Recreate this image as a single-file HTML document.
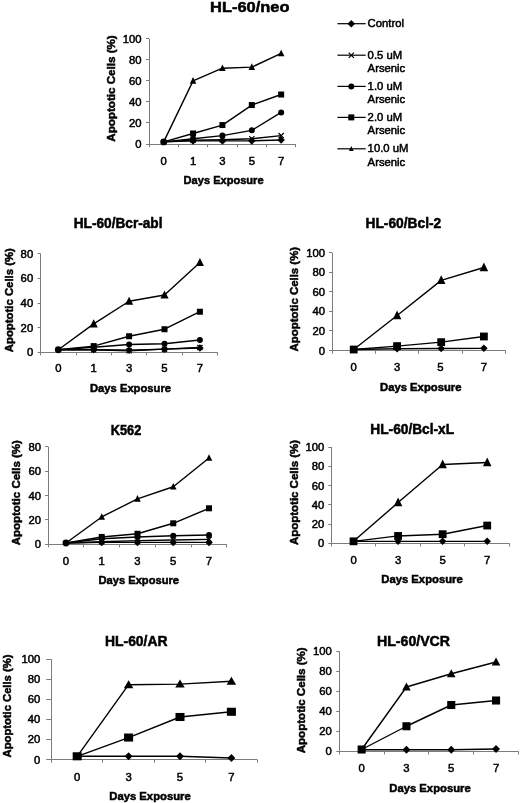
<!DOCTYPE html>
<html><head><meta charset="utf-8"><title>Apoptotic cells</title>
<style>
html,body{margin:0;padding:0;background:#fff;}
body{width:520px;height:803px;overflow:hidden;}
svg{display:block;font-family:"Liberation Sans", sans-serif;fill:#000;filter:grayscale(1);}
svg text{fill:#000;stroke:#000;stroke-width:0.5px;}
</style></head><body>
<svg width="520" height="803" viewBox="0 0 520 803">
<rect x="0" y="0" width="520" height="803" fill="#fff"/>
<line x1="149.50" y1="38.75" x2="149.50" y2="144.50" stroke="#7c7c7c" stroke-width="1"/>
<line x1="149.00" y1="144.50" x2="295.85" y2="144.50" stroke="#7c7c7c" stroke-width="1"/>
<line x1="146.00" y1="144.50" x2="149.00" y2="144.50" stroke="#7c7c7c" stroke-width="1"/>
<text x="141.60" y="148.00" font-size="11.3" text-anchor="end">0</text>
<line x1="146.00" y1="122.50" x2="149.00" y2="122.50" stroke="#7c7c7c" stroke-width="1"/>
<text x="141.60" y="126.95" font-size="11.3" text-anchor="end">20</text>
<line x1="146.00" y1="101.50" x2="149.00" y2="101.50" stroke="#7c7c7c" stroke-width="1"/>
<text x="141.60" y="105.90" font-size="11.3" text-anchor="end">40</text>
<line x1="146.00" y1="80.50" x2="149.00" y2="80.50" stroke="#7c7c7c" stroke-width="1"/>
<text x="141.60" y="84.85" font-size="11.3" text-anchor="end">60</text>
<line x1="146.00" y1="59.50" x2="149.00" y2="59.50" stroke="#7c7c7c" stroke-width="1"/>
<text x="141.60" y="63.80" font-size="11.3" text-anchor="end">80</text>
<line x1="146.00" y1="38.50" x2="149.00" y2="38.50" stroke="#7c7c7c" stroke-width="1"/>
<text x="141.60" y="42.75" font-size="11.3" text-anchor="end">100</text>
<line x1="149.50" y1="144.00" x2="149.50" y2="147.20" stroke="#7c7c7c" stroke-width="1"/>
<line x1="178.50" y1="144.00" x2="178.50" y2="147.20" stroke="#7c7c7c" stroke-width="1"/>
<line x1="207.50" y1="144.00" x2="207.50" y2="147.20" stroke="#7c7c7c" stroke-width="1"/>
<line x1="237.50" y1="144.00" x2="237.50" y2="147.20" stroke="#7c7c7c" stroke-width="1"/>
<line x1="266.50" y1="144.00" x2="266.50" y2="147.20" stroke="#7c7c7c" stroke-width="1"/>
<line x1="295.50" y1="144.00" x2="295.50" y2="147.20" stroke="#7c7c7c" stroke-width="1"/>
<text x="163.69" y="164.90" font-size="11.3" text-anchor="middle">0</text>
<text x="193.06" y="164.90" font-size="11.3" text-anchor="middle">1</text>
<text x="222.43" y="164.90" font-size="11.3" text-anchor="middle">3</text>
<text x="251.80" y="164.90" font-size="11.3" text-anchor="middle">5</text>
<text x="281.16" y="164.90" font-size="11.3" text-anchor="middle">7</text>
<text x="249.80" y="12.30" font-size="15" text-anchor="middle" font-weight="bold" textLength="79.50" lengthAdjust="spacingAndGlyphs">HL-60/neo</text>
<text x="115.00" y="88.50" font-size="11.3" text-anchor="middle" font-weight="bold" transform="rotate(-90 115.00 88.50)" textLength="106.50" lengthAdjust="spacingAndGlyphs">Apoptotic Cells (%)</text>
<text x="223.60" y="183.70" font-size="11.3" text-anchor="middle" font-weight="bold" textLength="80.00" lengthAdjust="spacingAndGlyphs">Days Exposure</text>
<polyline fill="none" stroke="#000" stroke-width="1.4" stroke-linejoin="round" points="163.69,141.90 193.06,140.84 222.43,140.84 251.80,140.84 281.16,140.00"/>
<polygon points="193.06,137.04 196.86,140.84 193.06,144.64 189.25,140.84" fill="#000"/>
<polygon points="222.43,137.04 226.23,140.84 222.43,144.64 218.62,140.84" fill="#000"/>
<polygon points="251.80,137.04 255.60,140.84 251.80,144.64 248.00,140.84" fill="#000"/>
<polygon points="281.16,136.20 284.96,140.00 281.16,143.80 277.36,140.00" fill="#000"/>
<polyline fill="none" stroke="#000" stroke-width="1.4" stroke-linejoin="round" points="163.69,141.90 193.06,140.32 222.43,139.79 251.80,138.74 281.16,135.58"/>
<path d="M190.46,137.72 L195.66,142.92 M190.46,142.92 L195.66,137.72" stroke="#000" stroke-width="1.2" fill="none"/>
<path d="M219.83,137.19 L225.03,142.39 M219.83,142.39 L225.03,137.19" stroke="#000" stroke-width="1.2" fill="none"/>
<path d="M249.20,136.14 L254.40,141.34 M249.20,141.34 L254.40,136.14" stroke="#000" stroke-width="1.2" fill="none"/>
<path d="M278.56,132.98 L283.76,138.18 M278.56,138.18 L283.76,132.98" stroke="#000" stroke-width="1.2" fill="none"/>
<polyline fill="none" stroke="#000" stroke-width="1.4" stroke-linejoin="round" points="163.69,141.90 193.06,138.74 222.43,135.58 251.80,130.32 281.16,112.42"/>
<circle cx="163.69" cy="141.90" r="3.45" fill="#000"/>
<circle cx="193.06" cy="138.74" r="3.00" fill="#000"/>
<circle cx="222.43" cy="135.58" r="3.00" fill="#000"/>
<circle cx="251.80" cy="130.32" r="3.00" fill="#000"/>
<circle cx="281.16" cy="112.42" r="3.00" fill="#000"/>
<polyline fill="none" stroke="#000" stroke-width="1.4" stroke-linejoin="round" points="163.69,141.90 193.06,133.47 222.43,125.06 251.80,105.06 281.16,94.53"/>
<rect x="190.06" y="130.47" width="6.00" height="6.00" fill="#000"/>
<rect x="219.43" y="122.06" width="6.00" height="6.00" fill="#000"/>
<rect x="248.80" y="102.06" width="6.00" height="6.00" fill="#000"/>
<rect x="278.16" y="91.53" width="6.00" height="6.00" fill="#000"/>
<polyline fill="none" stroke="#000" stroke-width="1.4" stroke-linejoin="round" points="163.69,141.90 193.06,80.85 222.43,68.22 251.80,67.17 281.16,53.48"/>
<polygon points="193.06,77.03 196.33,83.74 189.78,83.74" fill="#000"/>
<polygon points="222.43,64.40 225.70,71.11 219.15,71.11" fill="#000"/>
<polygon points="251.80,63.35 255.07,70.05 248.52,70.05" fill="#000"/>
<polygon points="281.16,49.66 284.44,56.37 277.89,56.37" fill="#000"/>
<line x1="40.50" y1="253.75" x2="40.50" y2="352.75" stroke="#7c7c7c" stroke-width="1"/>
<line x1="40.60" y1="352.50" x2="217.60" y2="352.50" stroke="#7c7c7c" stroke-width="1"/>
<line x1="37.60" y1="352.50" x2="40.60" y2="352.50" stroke="#7c7c7c" stroke-width="1"/>
<text x="33.20" y="356.25" font-size="11.3" text-anchor="end">0</text>
<line x1="37.60" y1="327.50" x2="40.60" y2="327.50" stroke="#7c7c7c" stroke-width="1"/>
<text x="33.20" y="331.62" font-size="11.3" text-anchor="end">20</text>
<line x1="37.60" y1="303.50" x2="40.60" y2="303.50" stroke="#7c7c7c" stroke-width="1"/>
<text x="33.20" y="307.00" font-size="11.3" text-anchor="end">40</text>
<line x1="37.60" y1="278.50" x2="40.60" y2="278.50" stroke="#7c7c7c" stroke-width="1"/>
<text x="33.20" y="282.38" font-size="11.3" text-anchor="end">60</text>
<line x1="37.60" y1="253.50" x2="40.60" y2="253.50" stroke="#7c7c7c" stroke-width="1"/>
<text x="33.20" y="257.75" font-size="11.3" text-anchor="end">80</text>
<line x1="40.50" y1="352.25" x2="40.50" y2="355.45" stroke="#7c7c7c" stroke-width="1"/>
<line x1="76.50" y1="352.25" x2="76.50" y2="355.45" stroke="#7c7c7c" stroke-width="1"/>
<line x1="111.50" y1="352.25" x2="111.50" y2="355.45" stroke="#7c7c7c" stroke-width="1"/>
<line x1="146.50" y1="352.25" x2="146.50" y2="355.45" stroke="#7c7c7c" stroke-width="1"/>
<line x1="182.50" y1="352.25" x2="182.50" y2="355.45" stroke="#7c7c7c" stroke-width="1"/>
<line x1="217.50" y1="352.25" x2="217.50" y2="355.45" stroke="#7c7c7c" stroke-width="1"/>
<text x="58.30" y="372.25" font-size="11.3" text-anchor="middle">0</text>
<text x="93.70" y="372.25" font-size="11.3" text-anchor="middle">1</text>
<text x="129.10" y="372.25" font-size="11.3" text-anchor="middle">3</text>
<text x="164.50" y="372.25" font-size="11.3" text-anchor="middle">5</text>
<text x="199.90" y="372.25" font-size="11.3" text-anchor="middle">7</text>
<text x="118.10" y="228.00" font-size="14" text-anchor="middle" font-weight="bold" textLength="88.75" lengthAdjust="spacingAndGlyphs">HL-60/Bcr-abl</text>
<text x="13.30" y="300.20" font-size="11.3" text-anchor="middle" font-weight="bold" transform="rotate(-90 13.30 300.20)" textLength="104.00" lengthAdjust="spacingAndGlyphs">Apoptotic Cells (%)</text>
<text x="130.50" y="392.00" font-size="11.3" text-anchor="middle" font-weight="bold" textLength="81.00" lengthAdjust="spacingAndGlyphs">Days Exposure</text>
<polyline fill="none" stroke="#000" stroke-width="1.4" stroke-linejoin="round" points="58.30,349.79 93.70,349.79 129.10,350.28 164.50,349.17 199.90,347.94"/>
<polygon points="93.70,345.99 97.50,349.79 93.70,353.59 89.90,349.79" fill="#000"/>
<polygon points="129.10,346.48 132.90,350.28 129.10,354.08 125.30,350.28" fill="#000"/>
<polygon points="164.50,345.37 168.30,349.17 164.50,352.97 160.70,349.17" fill="#000"/>
<polygon points="199.90,344.14 203.70,347.94 199.90,351.74 196.10,347.94" fill="#000"/>
<polyline fill="none" stroke="#000" stroke-width="1.4" stroke-linejoin="round" points="58.30,349.79 93.70,349.79 129.10,350.77 164.50,349.17 199.90,347.57"/>
<path d="M91.10,347.19 L96.30,352.39 M91.10,352.39 L96.30,347.19" stroke="#000" stroke-width="1.2" fill="none"/>
<path d="M126.50,348.17 L131.70,353.37 M126.50,353.37 L131.70,348.17" stroke="#000" stroke-width="1.2" fill="none"/>
<path d="M161.90,346.57 L167.10,351.77 M161.90,351.77 L167.10,346.57" stroke="#000" stroke-width="1.2" fill="none"/>
<path d="M197.30,344.97 L202.50,350.17 M197.30,350.17 L202.50,344.97" stroke="#000" stroke-width="1.2" fill="none"/>
<polyline fill="none" stroke="#000" stroke-width="1.4" stroke-linejoin="round" points="58.30,349.79 93.70,347.32 129.10,344.49 164.50,343.75 199.90,340.06"/>
<circle cx="58.30" cy="349.79" r="3.45" fill="#000"/>
<circle cx="93.70" cy="347.32" r="3.00" fill="#000"/>
<circle cx="129.10" cy="344.49" r="3.00" fill="#000"/>
<circle cx="164.50" cy="343.75" r="3.00" fill="#000"/>
<circle cx="199.90" cy="340.06" r="3.00" fill="#000"/>
<polyline fill="none" stroke="#000" stroke-width="1.4" stroke-linejoin="round" points="58.30,349.79 93.70,346.09 129.10,336.24 164.50,329.23 199.90,311.74"/>
<rect x="90.70" y="343.09" width="6.00" height="6.00" fill="#000"/>
<rect x="126.10" y="333.24" width="6.00" height="6.00" fill="#000"/>
<rect x="161.50" y="326.23" width="6.00" height="6.00" fill="#000"/>
<rect x="196.90" y="308.74" width="6.00" height="6.00" fill="#000"/>
<polyline fill="none" stroke="#000" stroke-width="1.4" stroke-linejoin="round" points="58.30,349.79 93.70,323.93 129.10,301.28 164.50,295.00 199.90,262.49"/>
<polygon points="93.70,319.34 97.79,327.39 89.61,327.39" fill="#000"/>
<polygon points="129.10,296.69 133.19,304.74 125.01,304.74" fill="#000"/>
<polygon points="164.50,290.41 168.59,298.46 160.41,298.46" fill="#000"/>
<polygon points="199.90,257.91 203.99,265.96 195.81,265.96" fill="#000"/>
<line x1="332.50" y1="252.50" x2="332.50" y2="351.00" stroke="#7c7c7c" stroke-width="1"/>
<line x1="332.00" y1="350.50" x2="505.60" y2="350.50" stroke="#7c7c7c" stroke-width="1"/>
<line x1="329.00" y1="350.50" x2="332.00" y2="350.50" stroke="#7c7c7c" stroke-width="1"/>
<text x="325.10" y="354.50" font-size="11.3" text-anchor="end">0</text>
<line x1="329.00" y1="330.50" x2="332.00" y2="330.50" stroke="#7c7c7c" stroke-width="1"/>
<text x="325.10" y="334.90" font-size="11.3" text-anchor="end">20</text>
<line x1="329.00" y1="311.50" x2="332.00" y2="311.50" stroke="#7c7c7c" stroke-width="1"/>
<text x="325.10" y="315.30" font-size="11.3" text-anchor="end">40</text>
<line x1="329.00" y1="291.50" x2="332.00" y2="291.50" stroke="#7c7c7c" stroke-width="1"/>
<text x="325.10" y="295.70" font-size="11.3" text-anchor="end">60</text>
<line x1="329.00" y1="272.50" x2="332.00" y2="272.50" stroke="#7c7c7c" stroke-width="1"/>
<text x="325.10" y="276.10" font-size="11.3" text-anchor="end">80</text>
<line x1="329.00" y1="252.50" x2="332.00" y2="252.50" stroke="#7c7c7c" stroke-width="1"/>
<text x="325.10" y="256.50" font-size="11.3" text-anchor="end">100</text>
<line x1="332.50" y1="350.50" x2="332.50" y2="353.70" stroke="#7c7c7c" stroke-width="1"/>
<line x1="375.50" y1="350.50" x2="375.50" y2="353.70" stroke="#7c7c7c" stroke-width="1"/>
<line x1="418.50" y1="350.50" x2="418.50" y2="353.70" stroke="#7c7c7c" stroke-width="1"/>
<line x1="462.50" y1="350.50" x2="462.50" y2="353.70" stroke="#7c7c7c" stroke-width="1"/>
<line x1="505.50" y1="350.50" x2="505.50" y2="353.70" stroke="#7c7c7c" stroke-width="1"/>
<text x="353.70" y="371.00" font-size="11.3" text-anchor="middle">0</text>
<text x="397.10" y="371.00" font-size="11.3" text-anchor="middle">3</text>
<text x="440.50" y="371.00" font-size="11.3" text-anchor="middle">5</text>
<text x="483.90" y="371.00" font-size="11.3" text-anchor="middle">7</text>
<text x="403.40" y="228.00" font-size="14" text-anchor="middle" font-weight="bold" textLength="75.75" lengthAdjust="spacingAndGlyphs">HL-60/Bcl-2</text>
<text x="298.50" y="299.20" font-size="11.3" text-anchor="middle" font-weight="bold" transform="rotate(-90 298.50 299.20)" textLength="104.60" lengthAdjust="spacingAndGlyphs">Apoptotic Cells (%)</text>
<text x="420.75" y="391.00" font-size="11.3" text-anchor="middle" font-weight="bold" textLength="81.50" lengthAdjust="spacingAndGlyphs">Days Exposure</text>
<polyline fill="none" stroke="#000" stroke-width="1.4" stroke-linejoin="round" points="353.70,349.52 397.10,348.74 441.20,348.54 483.90,348.34"/>
<polygon points="397.10,344.98 400.85,348.74 397.10,352.49 393.35,348.74" fill="#000"/>
<polygon points="441.20,344.79 444.95,348.54 441.20,352.29 437.45,348.54" fill="#000"/>
<polygon points="483.90,344.59 487.65,348.34 483.90,352.10 480.15,348.34" fill="#000"/>
<polyline fill="none" stroke="#000" stroke-width="1.4" stroke-linejoin="round" points="353.70,349.52 397.10,346.09 441.20,342.17 483.90,336.49"/>
<rect x="349.80" y="345.62" width="7.80" height="7.80" fill="#000"/>
<rect x="393.20" y="342.19" width="7.80" height="7.80" fill="#000"/>
<rect x="437.30" y="338.27" width="7.80" height="7.80" fill="#000"/>
<rect x="480.00" y="332.59" width="7.80" height="7.80" fill="#000"/>
<polyline fill="none" stroke="#000" stroke-width="1.4" stroke-linejoin="round" points="353.70,349.52 397.10,315.51 441.20,280.33 483.90,267.49"/>
<polygon points="397.10,310.55 401.36,319.27 392.84,319.27" fill="#000"/>
<polygon points="441.20,275.36 445.46,284.08 436.94,284.08" fill="#000"/>
<polygon points="483.90,262.53 488.16,271.25 479.64,271.25" fill="#000"/>
<line x1="48.50" y1="446.75" x2="48.50" y2="544.75" stroke="#7c7c7c" stroke-width="1"/>
<line x1="48.10" y1="544.50" x2="226.90" y2="544.50" stroke="#7c7c7c" stroke-width="1"/>
<line x1="45.10" y1="544.50" x2="48.10" y2="544.50" stroke="#7c7c7c" stroke-width="1"/>
<text x="41.00" y="548.25" font-size="11.3" text-anchor="end">0</text>
<line x1="45.10" y1="519.50" x2="48.10" y2="519.50" stroke="#7c7c7c" stroke-width="1"/>
<text x="41.00" y="523.88" font-size="11.3" text-anchor="end">20</text>
<line x1="45.10" y1="495.50" x2="48.10" y2="495.50" stroke="#7c7c7c" stroke-width="1"/>
<text x="41.00" y="499.50" font-size="11.3" text-anchor="end">40</text>
<line x1="45.10" y1="471.50" x2="48.10" y2="471.50" stroke="#7c7c7c" stroke-width="1"/>
<text x="41.00" y="475.12" font-size="11.3" text-anchor="end">60</text>
<line x1="45.10" y1="446.50" x2="48.10" y2="446.50" stroke="#7c7c7c" stroke-width="1"/>
<text x="41.00" y="450.75" font-size="11.3" text-anchor="end">80</text>
<line x1="48.50" y1="544.25" x2="48.50" y2="547.45" stroke="#7c7c7c" stroke-width="1"/>
<line x1="83.50" y1="544.25" x2="83.50" y2="547.45" stroke="#7c7c7c" stroke-width="1"/>
<line x1="119.50" y1="544.25" x2="119.50" y2="547.45" stroke="#7c7c7c" stroke-width="1"/>
<line x1="155.50" y1="544.25" x2="155.50" y2="547.45" stroke="#7c7c7c" stroke-width="1"/>
<line x1="191.50" y1="544.25" x2="191.50" y2="547.45" stroke="#7c7c7c" stroke-width="1"/>
<line x1="226.50" y1="544.25" x2="226.50" y2="547.45" stroke="#7c7c7c" stroke-width="1"/>
<text x="65.98" y="564.75" font-size="11.3" text-anchor="middle">0</text>
<text x="101.74" y="564.75" font-size="11.3" text-anchor="middle">1</text>
<text x="137.50" y="564.75" font-size="11.3" text-anchor="middle">3</text>
<text x="173.26" y="564.75" font-size="11.3" text-anchor="middle">5</text>
<text x="209.02" y="564.75" font-size="11.3" text-anchor="middle">7</text>
<text x="126.00" y="435.00" font-size="14" text-anchor="middle" font-weight="bold" textLength="30.50" lengthAdjust="spacingAndGlyphs">K562</text>
<text x="19.60" y="492.75" font-size="11.3" text-anchor="middle" font-weight="bold" transform="rotate(-90 19.60 492.75)" textLength="105.20" lengthAdjust="spacingAndGlyphs">Apoptotic Cells (%)</text>
<text x="138.75" y="584.00" font-size="11.3" text-anchor="middle" font-weight="bold" textLength="80.50" lengthAdjust="spacingAndGlyphs">Days Exposure</text>
<polyline fill="none" stroke="#000" stroke-width="1.4" stroke-linejoin="round" points="65.98,543.03 101.74,542.42 137.50,542.42 173.26,542.42 209.02,542.42"/>
<polygon points="101.74,538.62 105.54,542.42 101.74,546.22 97.94,542.42" fill="#000"/>
<polygon points="137.50,538.62 141.30,542.42 137.50,546.22 133.70,542.42" fill="#000"/>
<polygon points="173.26,538.62 177.06,542.42 173.26,546.22 169.46,542.42" fill="#000"/>
<polygon points="209.02,538.62 212.82,542.42 209.02,546.22 205.22,542.42" fill="#000"/>
<polyline fill="none" stroke="#000" stroke-width="1.4" stroke-linejoin="round" points="65.98,543.03 101.74,541.81 137.50,540.59 173.26,539.98 209.02,539.38"/>
<path d="M99.14,539.21 L104.34,544.41 M99.14,544.41 L104.34,539.21" stroke="#000" stroke-width="1.2" fill="none"/>
<path d="M134.90,537.99 L140.10,543.19 M134.90,543.19 L140.10,537.99" stroke="#000" stroke-width="1.2" fill="none"/>
<path d="M170.66,537.38 L175.86,542.58 M170.66,542.58 L175.86,537.38" stroke="#000" stroke-width="1.2" fill="none"/>
<path d="M206.42,536.77 L211.62,541.98 M206.42,541.98 L211.62,536.77" stroke="#000" stroke-width="1.2" fill="none"/>
<polyline fill="none" stroke="#000" stroke-width="1.4" stroke-linejoin="round" points="65.98,543.03 101.74,538.77 137.50,536.94 173.26,535.72 209.02,534.99"/>
<circle cx="65.98" cy="543.03" r="3.45" fill="#000"/>
<circle cx="101.74" cy="538.77" r="3.00" fill="#000"/>
<circle cx="137.50" cy="536.94" r="3.00" fill="#000"/>
<circle cx="173.26" cy="535.72" r="3.00" fill="#000"/>
<circle cx="209.02" cy="534.99" r="3.00" fill="#000"/>
<polyline fill="none" stroke="#000" stroke-width="1.4" stroke-linejoin="round" points="65.98,543.03 101.74,536.94 137.50,533.77 173.26,523.29 209.02,508.30"/>
<rect x="98.74" y="533.94" width="6.00" height="6.00" fill="#000"/>
<rect x="134.50" y="530.77" width="6.00" height="6.00" fill="#000"/>
<rect x="170.26" y="520.29" width="6.00" height="6.00" fill="#000"/>
<rect x="206.02" y="505.30" width="6.00" height="6.00" fill="#000"/>
<polyline fill="none" stroke="#000" stroke-width="1.4" stroke-linejoin="round" points="65.98,543.03 101.74,516.95 137.50,498.79 173.26,486.73 209.02,457.96"/>
<polygon points="101.74,513.13 105.02,519.84 98.46,519.84" fill="#000"/>
<polygon points="137.50,494.97 140.78,501.68 134.22,501.68" fill="#000"/>
<polygon points="173.26,482.90 176.54,489.61 169.98,489.61" fill="#000"/>
<polygon points="209.02,454.14 212.30,460.85 205.74,460.85" fill="#000"/>
<line x1="331.50" y1="447.00" x2="331.50" y2="543.75" stroke="#7c7c7c" stroke-width="1"/>
<line x1="331.25" y1="543.50" x2="509.49" y2="543.50" stroke="#7c7c7c" stroke-width="1"/>
<line x1="328.25" y1="543.50" x2="331.25" y2="543.50" stroke="#7c7c7c" stroke-width="1"/>
<text x="324.25" y="547.25" font-size="11.3" text-anchor="end">0</text>
<line x1="328.25" y1="524.50" x2="331.25" y2="524.50" stroke="#7c7c7c" stroke-width="1"/>
<text x="324.25" y="528.00" font-size="11.3" text-anchor="end">20</text>
<line x1="328.25" y1="504.50" x2="331.25" y2="504.50" stroke="#7c7c7c" stroke-width="1"/>
<text x="324.25" y="508.75" font-size="11.3" text-anchor="end">40</text>
<line x1="328.25" y1="485.50" x2="331.25" y2="485.50" stroke="#7c7c7c" stroke-width="1"/>
<text x="324.25" y="489.50" font-size="11.3" text-anchor="end">60</text>
<line x1="328.25" y1="466.50" x2="331.25" y2="466.50" stroke="#7c7c7c" stroke-width="1"/>
<text x="324.25" y="470.25" font-size="11.3" text-anchor="end">80</text>
<line x1="328.25" y1="447.50" x2="331.25" y2="447.50" stroke="#7c7c7c" stroke-width="1"/>
<text x="324.25" y="451.00" font-size="11.3" text-anchor="end">100</text>
<line x1="331.50" y1="543.25" x2="331.50" y2="546.45" stroke="#7c7c7c" stroke-width="1"/>
<line x1="375.50" y1="543.25" x2="375.50" y2="546.45" stroke="#7c7c7c" stroke-width="1"/>
<line x1="420.50" y1="543.25" x2="420.50" y2="546.45" stroke="#7c7c7c" stroke-width="1"/>
<line x1="464.50" y1="543.25" x2="464.50" y2="546.45" stroke="#7c7c7c" stroke-width="1"/>
<line x1="509.50" y1="543.25" x2="509.50" y2="546.45" stroke="#7c7c7c" stroke-width="1"/>
<text x="353.53" y="564.00" font-size="11.3" text-anchor="middle">0</text>
<text x="398.09" y="564.00" font-size="11.3" text-anchor="middle">3</text>
<text x="442.65" y="564.00" font-size="11.3" text-anchor="middle">5</text>
<text x="487.21" y="564.00" font-size="11.3" text-anchor="middle">7</text>
<text x="412.20" y="434.10" font-size="14" text-anchor="middle" font-weight="bold" textLength="83.75" lengthAdjust="spacingAndGlyphs">HL-60/Bcl-xL</text>
<text x="297.75" y="492.50" font-size="11.3" text-anchor="middle" font-weight="bold" transform="rotate(-90 297.75 492.50)" textLength="105.00" lengthAdjust="spacingAndGlyphs">Apoptotic Cells (%)</text>
<text x="422.00" y="583.25" font-size="11.3" text-anchor="middle" font-weight="bold" textLength="81.50" lengthAdjust="spacingAndGlyphs">Days Exposure</text>
<polyline fill="none" stroke="#000" stroke-width="1.4" stroke-linejoin="round" points="353.53,541.33 398.09,541.33 442.65,541.33 487.21,541.33"/>
<polygon points="398.09,537.57 401.84,541.33 398.09,545.08 394.34,541.33" fill="#000"/>
<polygon points="442.65,537.57 446.40,541.33 442.65,545.08 438.90,541.33" fill="#000"/>
<polygon points="487.21,537.57 490.96,541.33 487.21,545.08 483.46,541.33" fill="#000"/>
<polyline fill="none" stroke="#000" stroke-width="1.4" stroke-linejoin="round" points="353.53,541.33 398.09,535.93 442.65,534.20 487.21,525.54"/>
<rect x="349.63" y="537.43" width="7.80" height="7.80" fill="#000"/>
<rect x="394.19" y="532.03" width="7.80" height="7.80" fill="#000"/>
<rect x="438.75" y="530.30" width="7.80" height="7.80" fill="#000"/>
<rect x="483.31" y="521.64" width="7.80" height="7.80" fill="#000"/>
<polyline fill="none" stroke="#000" stroke-width="1.4" stroke-linejoin="round" points="353.53,541.33 398.09,502.54 442.65,464.52 487.21,462.50"/>
<polygon points="398.09,497.57 402.35,506.29 393.83,506.29" fill="#000"/>
<polygon points="442.65,459.55 446.91,468.27 438.39,468.27" fill="#000"/>
<polygon points="487.21,457.53 491.47,466.25 482.95,466.25" fill="#000"/>
<line x1="51.50" y1="659.25" x2="51.50" y2="760.00" stroke="#7c7c7c" stroke-width="1"/>
<line x1="51.50" y1="759.50" x2="257.10" y2="759.50" stroke="#7c7c7c" stroke-width="1"/>
<line x1="46.20" y1="759.50" x2="51.50" y2="759.50" stroke="#7c7c7c" stroke-width="1"/>
<text x="40.40" y="763.50" font-size="11.3" text-anchor="end">0</text>
<line x1="46.20" y1="739.50" x2="51.50" y2="739.50" stroke="#7c7c7c" stroke-width="1"/>
<text x="40.40" y="743.45" font-size="11.3" text-anchor="end">20</text>
<line x1="46.20" y1="719.50" x2="51.50" y2="719.50" stroke="#7c7c7c" stroke-width="1"/>
<text x="40.40" y="723.40" font-size="11.3" text-anchor="end">40</text>
<line x1="46.20" y1="699.50" x2="51.50" y2="699.50" stroke="#7c7c7c" stroke-width="1"/>
<text x="40.40" y="703.35" font-size="11.3" text-anchor="end">60</text>
<line x1="46.20" y1="679.50" x2="51.50" y2="679.50" stroke="#7c7c7c" stroke-width="1"/>
<text x="40.40" y="683.30" font-size="11.3" text-anchor="end">80</text>
<line x1="46.20" y1="659.50" x2="51.50" y2="659.50" stroke="#7c7c7c" stroke-width="1"/>
<text x="40.40" y="663.25" font-size="11.3" text-anchor="end">100</text>
<line x1="51.50" y1="759.50" x2="51.50" y2="762.70" stroke="#7c7c7c" stroke-width="1"/>
<line x1="102.50" y1="759.50" x2="102.50" y2="762.70" stroke="#7c7c7c" stroke-width="1"/>
<line x1="154.50" y1="759.50" x2="154.50" y2="762.70" stroke="#7c7c7c" stroke-width="1"/>
<line x1="205.50" y1="759.50" x2="205.50" y2="762.70" stroke="#7c7c7c" stroke-width="1"/>
<line x1="257.50" y1="759.50" x2="257.50" y2="762.70" stroke="#7c7c7c" stroke-width="1"/>
<text x="77.20" y="780.75" font-size="11.3" text-anchor="middle">0</text>
<text x="128.60" y="780.75" font-size="11.3" text-anchor="middle">3</text>
<text x="180.00" y="780.75" font-size="11.3" text-anchor="middle">5</text>
<text x="231.40" y="780.75" font-size="11.3" text-anchor="middle">7</text>
<text x="136.25" y="645.75" font-size="14" text-anchor="middle" font-weight="bold" textLength="62.50" lengthAdjust="spacingAndGlyphs">HL-60/AR</text>
<text x="10.60" y="706.00" font-size="11.3" text-anchor="middle" font-weight="bold" transform="rotate(-90 10.60 706.00)" textLength="102.80" lengthAdjust="spacingAndGlyphs">Apoptotic Cells (%)</text>
<text x="150.00" y="799.75" font-size="11.3" text-anchor="middle" font-weight="bold" textLength="81.50" lengthAdjust="spacingAndGlyphs">Days Exposure</text>
<polyline fill="none" stroke="#000" stroke-width="1.4" stroke-linejoin="round" points="77.20,756.29 128.60,756.29 180.00,756.29 231.40,758.00"/>
<polygon points="128.60,752.37 132.52,756.29 128.60,760.21 124.68,756.29" fill="#000"/>
<polygon points="180.00,752.37 183.92,756.29 180.00,760.21 176.08,756.29" fill="#000"/>
<polygon points="231.40,754.07 235.32,758.00 231.40,761.92 227.48,758.00" fill="#000"/>
<polyline fill="none" stroke="#000" stroke-width="1.4" stroke-linejoin="round" points="77.20,756.29 128.60,737.55 180.00,716.99 231.40,711.78"/>
<rect x="72.68" y="752.26" width="9.03" height="8.06" fill="#000"/>
<rect x="124.08" y="733.51" width="9.03" height="8.06" fill="#000"/>
<rect x="175.48" y="712.96" width="9.03" height="8.06" fill="#000"/>
<rect x="226.88" y="707.75" width="9.03" height="8.06" fill="#000"/>
<polyline fill="none" stroke="#000" stroke-width="1.4" stroke-linejoin="round" points="77.20,756.29 128.60,684.71 180.00,684.11 231.40,681.31"/>
<polygon points="128.60,680.13 133.32,688.18 123.88,688.18" fill="#000"/>
<polygon points="180.00,679.53 184.72,687.58 175.28,687.58" fill="#000"/>
<polygon points="231.40,676.72 236.12,684.77 226.68,684.77" fill="#000"/>
<line x1="339.50" y1="651.25" x2="339.50" y2="751.75" stroke="#7c7c7c" stroke-width="1"/>
<line x1="339.25" y1="751.50" x2="518.45" y2="751.50" stroke="#7c7c7c" stroke-width="1"/>
<line x1="336.25" y1="751.50" x2="339.25" y2="751.50" stroke="#7c7c7c" stroke-width="1"/>
<text x="331.85" y="755.25" font-size="11.3" text-anchor="end">0</text>
<line x1="336.25" y1="731.50" x2="339.25" y2="731.50" stroke="#7c7c7c" stroke-width="1"/>
<text x="331.85" y="735.25" font-size="11.3" text-anchor="end">20</text>
<line x1="336.25" y1="711.50" x2="339.25" y2="711.50" stroke="#7c7c7c" stroke-width="1"/>
<text x="331.85" y="715.25" font-size="11.3" text-anchor="end">40</text>
<line x1="336.25" y1="691.50" x2="339.25" y2="691.50" stroke="#7c7c7c" stroke-width="1"/>
<text x="331.85" y="695.25" font-size="11.3" text-anchor="end">60</text>
<line x1="336.25" y1="671.50" x2="339.25" y2="671.50" stroke="#7c7c7c" stroke-width="1"/>
<text x="331.85" y="675.25" font-size="11.3" text-anchor="end">80</text>
<line x1="336.25" y1="651.50" x2="339.25" y2="651.50" stroke="#7c7c7c" stroke-width="1"/>
<text x="331.85" y="655.25" font-size="11.3" text-anchor="end">100</text>
<line x1="339.50" y1="751.25" x2="339.50" y2="754.45" stroke="#7c7c7c" stroke-width="1"/>
<line x1="384.50" y1="751.25" x2="384.50" y2="754.45" stroke="#7c7c7c" stroke-width="1"/>
<line x1="428.50" y1="751.25" x2="428.50" y2="754.45" stroke="#7c7c7c" stroke-width="1"/>
<line x1="473.50" y1="751.25" x2="473.50" y2="754.45" stroke="#7c7c7c" stroke-width="1"/>
<line x1="518.50" y1="751.25" x2="518.50" y2="754.45" stroke="#7c7c7c" stroke-width="1"/>
<text x="361.65" y="772.00" font-size="11.3" text-anchor="middle">0</text>
<text x="406.45" y="772.00" font-size="11.3" text-anchor="middle">3</text>
<text x="451.25" y="772.00" font-size="11.3" text-anchor="middle">5</text>
<text x="496.05" y="772.00" font-size="11.3" text-anchor="middle">7</text>
<text x="413.50" y="646.25" font-size="14" text-anchor="middle" font-weight="bold" textLength="73.00" lengthAdjust="spacingAndGlyphs">HL-60/VCR</text>
<text x="304.70" y="700.30" font-size="11.3" text-anchor="middle" font-weight="bold" transform="rotate(-90 304.70 700.30)" textLength="106.00" lengthAdjust="spacingAndGlyphs">Apoptotic Cells (%)</text>
<text x="430.00" y="791.50" font-size="11.3" text-anchor="middle" font-weight="bold" textLength="81.50" lengthAdjust="spacingAndGlyphs">Days Exposure</text>
<polyline fill="none" stroke="#000" stroke-width="1.4" stroke-linejoin="round" points="361.65,749.75 406.45,749.75 451.25,749.75 496.05,749.00"/>
<polygon points="406.45,745.83 410.37,749.75 406.45,753.67 402.53,749.75" fill="#000"/>
<polygon points="451.25,745.83 455.17,749.75 451.25,753.67 447.33,749.75" fill="#000"/>
<polygon points="496.05,745.08 499.97,749.00 496.05,752.92 492.13,749.00" fill="#000"/>
<polyline fill="none" stroke="#000" stroke-width="1.4" stroke-linejoin="round" points="361.65,749.50 406.45,726.25 451.25,705.00 496.05,700.50"/>
<rect x="357.62" y="745.47" width="8.06" height="8.06" fill="#000"/>
<rect x="402.42" y="722.22" width="8.06" height="8.06" fill="#000"/>
<rect x="447.22" y="700.97" width="8.06" height="8.06" fill="#000"/>
<rect x="492.02" y="696.47" width="8.06" height="8.06" fill="#000"/>
<polyline fill="none" stroke="#000" stroke-width="1.4" stroke-linejoin="round" points="361.65,749.50 406.45,687.00 451.25,673.75 496.05,662.00"/>
<polygon points="406.45,682.41 410.74,690.46 402.16,690.46" fill="#000"/>
<polygon points="451.25,669.16 455.54,677.21 446.96,677.21" fill="#000"/>
<polygon points="496.05,657.41 500.34,665.46 491.76,665.46" fill="#000"/>
<line x1="337.40" y1="23.70" x2="365.70" y2="23.70" stroke="#000" stroke-width="1.2"/>
<polygon points="351.30,19.90 355.10,23.70 351.30,27.50 347.50,23.70" fill="#000"/>
<text x="367.60" y="27.20" font-size="11.3" text-anchor="start">Control</text>
<line x1="337.40" y1="55.20" x2="365.70" y2="55.20" stroke="#000" stroke-width="1.2"/>
<path d="M348.70,52.60 L353.90,57.80 M348.70,57.80 L353.90,52.60" stroke="#000" stroke-width="1.2" fill="none"/>
<text x="367.60" y="58.70" font-size="11.3" text-anchor="start">0.5 uM</text>
<text x="367.60" y="71.60" font-size="11.3" text-anchor="start">Arsenic</text>
<line x1="337.40" y1="86.40" x2="365.70" y2="86.40" stroke="#000" stroke-width="1.2"/>
<circle cx="351.30" cy="86.40" r="3.00" fill="#000"/>
<text x="367.60" y="89.90" font-size="11.3" text-anchor="start">1.0 uM</text>
<text x="367.60" y="103.20" font-size="11.3" text-anchor="start">Arsenic</text>
<line x1="337.40" y1="117.40" x2="365.70" y2="117.40" stroke="#000" stroke-width="1.2"/>
<rect x="348.30" y="114.40" width="6.00" height="6.00" fill="#000"/>
<text x="367.60" y="120.90" font-size="11.3" text-anchor="start">2.0 uM</text>
<text x="367.60" y="134.20" font-size="11.3" text-anchor="start">Arsenic</text>
<line x1="337.40" y1="148.80" x2="365.70" y2="148.80" stroke="#000" stroke-width="1.2"/>
<polygon points="351.30,146.05 353.66,150.88 348.94,150.88" fill="#000"/>
<text x="367.60" y="152.30" font-size="11.3" text-anchor="start">10.0 uM</text>
<text x="367.60" y="165.60" font-size="11.3" text-anchor="start">Arsenic</text>
</svg>
</body></html>
